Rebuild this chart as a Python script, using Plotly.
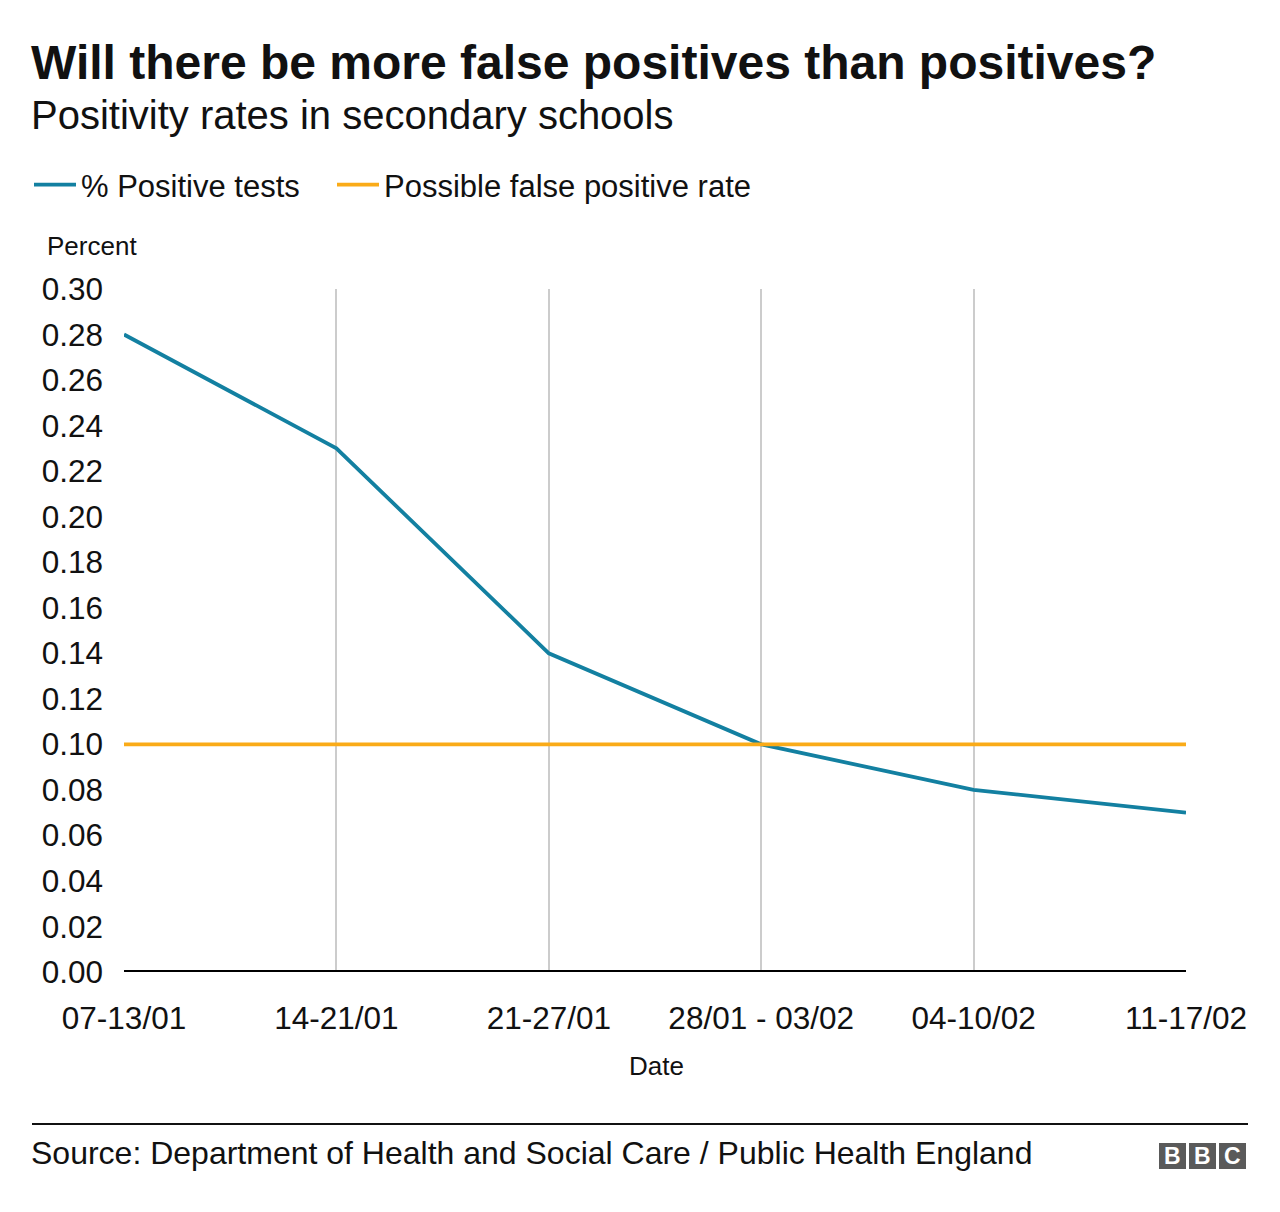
import plotly.graph_objects as go

categories = ["07-13/01", "14-21/01", "21-27/01", "28/01 - 03/02", "04-10/02", "11-17/02"]
positive_tests = [0.28, 0.23, 0.14, 0.10, 0.08, 0.07]
false_positive_rate = [0.10, 0.10, 0.10, 0.10, 0.10, 0.10]
y_ticks = [0.00, 0.02, 0.04, 0.06, 0.08, 0.10, 0.12, 0.14, 0.16, 0.18, 0.20, 0.22, 0.24, 0.26, 0.28, 0.30]

OFF = 8  # page body margin
W, H = 1264, 1196
L, R, T, B = 124 - OFF, 1186 - OFF, 289 - OFF, 972 - OFF
FONT = "Liberation Sans, Arial, sans-serif"
INK = "#111111"

def px(x):
    return (x - OFF - L) / (R - L)

def py(y):
    return (B - (y - OFF)) / (B - T)

fig = go.Figure()
fig.add_trace(go.Scatter(x=categories, y=positive_tests, mode="lines", name="% Positive tests",
                         line=dict(color="#1380A1", width=3.8), legend="legend"))
fig.add_trace(go.Scatter(x=categories, y=false_positive_rate, mode="lines", name="Possible false positive rate",
                         line=dict(color="#FAAB18", width=3.8), legend="legend2"))

leg_common = dict(orientation="h", xref="container", yref="container", y=1 - 150 / H,
                  xanchor="left", yanchor="top", font=dict(size=31, color=INK, family=FONT),
                  bgcolor="rgba(0,0,0,0)", itemwidth=42)

fig.update_layout(
    width=W, height=H,
    margin=dict(l=L, r=W - R, t=T, b=H - B, pad=0),
    paper_bgcolor="white", plot_bgcolor="white",
    font=dict(family=FONT, color=INK, size=30),
    showlegend=True,
    legend=dict(**leg_common, x=21 / W),
    legend2=dict(**leg_common, x=324 / W),
    xaxis=dict(type="category", range=[0, 5], showgrid=True, gridcolor="#cccccc", gridwidth=2,
               showline=False, zeroline=False, ticks="", ticklabelstandoff=24,
               tickfont=dict(size=31.5, color=INK)),
    yaxis=dict(range=[0, 0.30], tickvals=y_ticks, tickformat=".2f", showgrid=False, zeroline=False,
               showline=False, ticks="", ticklabelstandoff=20, tickfont=dict(size=31.5, color=INK)),
)

# zero baseline
fig.add_shape(type="line", xref="paper", yref="y", x0=0, x1=1, y0=0, y1=0,
              line=dict(color="#000000", width=4), layer="above")

ann = dict(xref="paper", yref="paper", showarrow=False)
fig.add_annotation(**ann, x=px(29), y=py(62), xanchor="left", yanchor="middle",
                   text="<b>Will there be more false positives than positives?</b>",
                   font=dict(size=48, color=INK, family=FONT))
fig.add_annotation(**ann, x=px(29), y=py(115), xanchor="left", yanchor="middle",
                   text="Positivity rates in secondary schools",
                   font=dict(size=40, color=INK, family=FONT))
fig.add_annotation(**ann, x=px(45), y=py(246), xanchor="left", yanchor="middle",
                   text="Percent", font=dict(size=26, color=INK, family=FONT))
fig.add_annotation(**ann, x=px(656), y=py(1066), xanchor="center", yanchor="middle",
                   text="Date", font=dict(size=26, color=INK, family=FONT))
fig.add_annotation(**ann, x=px(29), y=py(1153), xanchor="left", yanchor="middle",
                   text="Source: Department of Health and Social Care / Public Health England",
                   font=dict(size=32, color=INK, family=FONT))

# footer rule
fig.add_shape(type="line", xref="paper", yref="paper", x0=px(32), x1=px(1248), y0=py(1124), y1=py(1124),
              line=dict(color=INK, width=2))

# BBC logo blocks
for i, letter in enumerate(["B", "B", "C"]):
    x0 = 1159 + i * 30
    fig.add_shape(type="rect", xref="paper", yref="paper", x0=px(x0), x1=px(x0 + 27),
                  y0=py(1169), y1=py(1143), fillcolor="#5a5a5a", line=dict(width=0))
    fig.add_annotation(**ann, x=px(x0 + 13.5), y=py(1156), xanchor="center", yanchor="middle",
                       text="<b>" + letter + "</b>", font=dict(size=23, color="white", family=FONT))

fig.write_html("out.html")
